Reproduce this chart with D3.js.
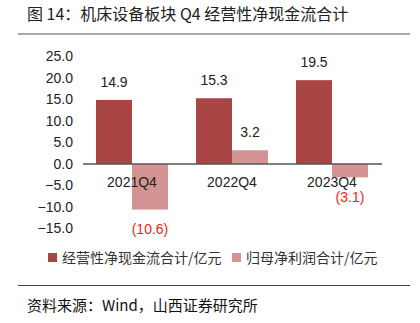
<!DOCTYPE html>
<html><head><meta charset="utf-8">
<script src="https://cdn.jsdelivr.net/npm/d3@7/dist/d3.min.js"></script>
<style>body{margin:0;background:#fff;} svg{display:block;}</style>
</head><body>
<svg id="c" width="420" height="323"></svg>
<script>
const categories = ["2021Q4", "2022Q4", "2023Q4"];
const cashFlow = [14.9, 15.3, 19.5];
const netProfit = [-10.6, 3.2, -3.1];
const seriesNames = ["经营性净现金流合计/亿元", "归母净利润合计/亿元"];
const yTicks = [-15, -10, -5, 0, 5, 10, 15, 20, 25];
const colors = ["#a94545", "#d49494"];

const svg = d3.select("#c");
const sans = "'Liberation Sans', Arial, sans-serif";
const cjk = "'Noto Sans CJK SC', sans-serif";

// title
svg.append("text").attr("x", 27).attr("y", 20).attr("font-family", cjk)
  .attr("font-size", 16).attr("fill", "#222").text("图 14：机床设备板块 Q4 经营性净现金流合计");
svg.append("line").attr("x1", 18).attr("x2", 410).attr("y1", 34).attr("y2", 34)
  .attr("stroke", "#555").attr("stroke-width", 1);

const y = d3.scaleLinear().domain([-15, 25]).range([228.5, 56.5]);
const x = d3.scaleBand().domain(categories).range([82, 382]).paddingInner(0.28).paddingOuter(0.14);
const xs = d3.scaleBand().domain([0, 1]).range([0, x.bandwidth()]);

// y axis
const yAxis = d3.axisLeft(y).tickValues(yTicks).tickFormat(d3.format(".1f")).tickSize(0).tickPadding(0);
const ga = svg.append("g").attr("transform", "translate(73,0)").call(yAxis);
ga.select(".domain").remove();
ga.selectAll("text").attr("font-family", sans).attr("font-size", 14).attr("fill", "#222");

const data = categories.map((c, i) => ({c, v: [cashFlow[i], netProfit[i]]}));

data.forEach(d => {
  d.v.forEach((v, j) => {
    svg.append("rect")
      .attr("x", x(d.c) + xs(j)).attr("width", xs.bandwidth())
      .attr("y", y(Math.max(0, v))).attr("height", Math.abs(y(v) - y(0)))
      .attr("fill", colors[j]);
  });
});

// zero line
svg.append("line").attr("x1", 83).attr("x2", 382).attr("y1", y(0)).attr("y2", y(0))
  .attr("stroke", "#555").attr("stroke-width", 1.3);

// category labels
data.forEach(d => {
  svg.append("text").attr("x", x(d.c) + x.bandwidth() / 2).attr("y", y(0) + 22.5)
    .attr("text-anchor", "middle").attr("font-family", sans).attr("font-size", 14)
    .attr("fill", "#222").text(d.c);
});

// value labels
data.forEach(d => {
  d.v.forEach((v, j) => {
    const cx = x(d.c) + xs(j) + xs.bandwidth() / 2;
    if (v >= 0) {
      svg.append("text").attr("x", cx).attr("y", y(v) - 13)
        .attr("text-anchor", "middle").attr("font-family", sans).attr("font-size", 14)
        .attr("fill", "#222").text(v.toFixed(1));
    } else {
      svg.append("text").attr("x", cx).attr("y", y(v) + 24.5)
        .attr("text-anchor", "middle").attr("font-family", sans).attr("font-size", 14)
        .attr("fill", "#ff1a1a").text("(" + Math.abs(v).toFixed(1) + ")");
    }
  });
});

// legend
const legX = [48, 232];
seriesNames.forEach((n, i) => {
  svg.append("rect").attr("x", legX[i]).attr("y", 253).attr("width", 9).attr("height", 9).attr("fill", colors[i]);
  svg.append("text").attr("x", legX[i] + 14).attr("y", 263).attr("font-family", cjk)
    .attr("font-size", 14).attr("fill", "#333").text(n);
});

// source
svg.append("line").attr("x1", 18).attr("x2", 410).attr("y1", 285.5).attr("y2", 285.5)
  .attr("stroke", "#444").attr("stroke-width", 1);
svg.append("text").attr("x", 27).attr("y", 311).attr("font-family", cjk)
  .attr("font-size", 15).attr("fill", "#111").text("资料来源：Wind，山西证券研究所");
</script>
</body></html>
